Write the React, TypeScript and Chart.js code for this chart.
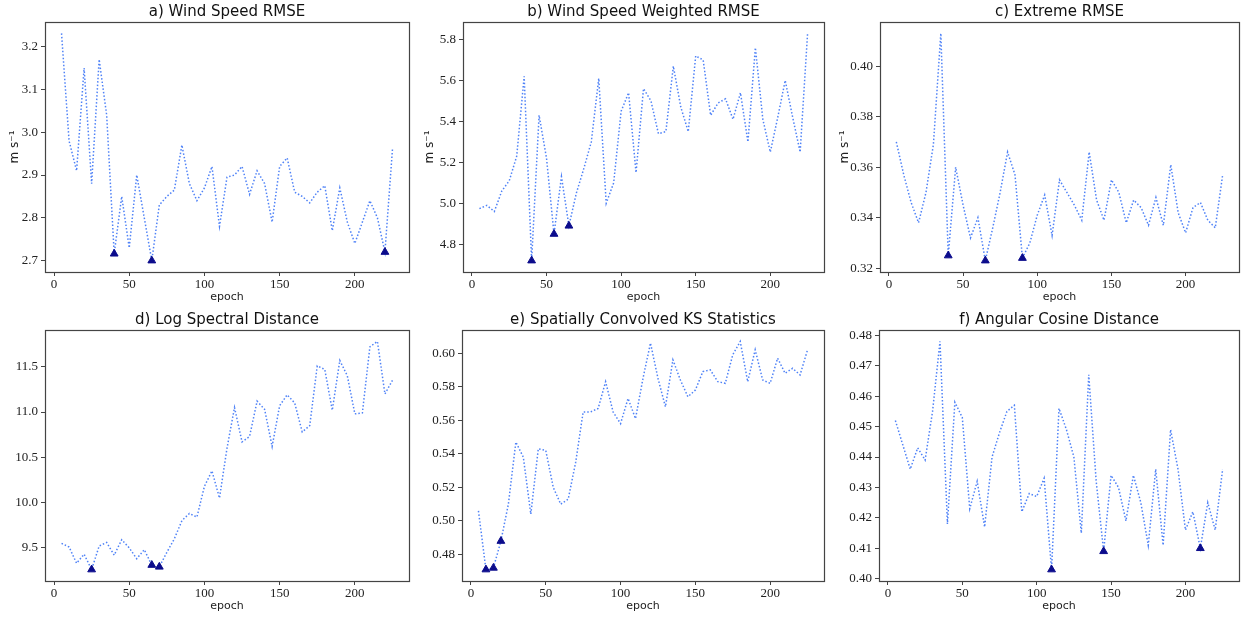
import React, { useEffect, useRef } from "react";
import { Chart, registerables } from "chart.js";

Chart.register(...registerables);

const epochs = [5,10,15,20,25,30,35,40,45,50,55,60,65,70,75,80,85,90,95,100,105,110,115,120,125,130,135,140,145,150,155,160,165,170,175,180,185,190,195,200,205,210,215,220,225];

const windRmse = [3.231,2.98,2.91,3.15,2.88,3.17,3.04,2.716,2.85,2.73,2.90,2.80,2.70,2.83,2.85,2.865,2.97,2.88,2.84,2.87,2.92,2.78,2.895,2.90,2.92,2.855,2.91,2.88,2.79,2.92,2.94,2.86,2.85,2.835,2.86,2.875,2.77,2.87,2.79,2.74,2.79,2.84,2.80,2.72,2.96];
const windRmseBest = [40, 65, 220];

const windWeighted = [4.974,4.99,4.96,5.06,5.11,5.23,5.62,4.72,5.43,5.22,4.85,5.13,4.89,5.05,5.17,5.30,5.61,5.00,5.10,5.45,5.54,5.15,5.56,5.50,5.34,5.35,5.67,5.47,5.35,5.72,5.70,5.43,5.49,5.51,5.41,5.54,5.30,5.76,5.41,5.25,5.42,5.60,5.42,5.25,5.83];
const windWeightedBest = [40, 55, 65];

const extremeRmse = [0.370,0.357,0.346,0.338,0.350,0.369,0.413,0.325,0.360,0.345,0.332,0.340,0.323,0.336,0.350,0.366,0.357,0.324,0.330,0.341,0.349,0.333,0.355,0.350,0.345,0.339,0.366,0.347,0.339,0.355,0.350,0.338,0.347,0.344,0.337,0.348,0.337,0.361,0.342,0.334,0.344,0.346,0.339,0.336,0.357];
const extremeRmseBest = [40, 65, 90];

const logSpectral = [9.55,9.51,9.33,9.43,9.26,9.52,9.56,9.42,9.59,9.50,9.38,9.48,9.31,9.29,9.45,9.60,9.80,9.88,9.84,10.18,10.35,10.05,10.60,11.05,10.67,10.73,11.12,11.03,10.62,11.07,11.19,11.10,10.78,10.85,11.51,11.47,11.02,11.57,11.40,10.98,10.99,11.72,11.78,11.20,11.35];
const logSpectralBest = [25, 65, 70];

const ksStats = [0.506,0.471,0.472,0.488,0.510,0.547,0.538,0.504,0.543,0.542,0.520,0.510,0.513,0.535,0.565,0.565,0.567,0.583,0.565,0.558,0.573,0.561,0.585,0.606,0.585,0.568,0.596,0.584,0.574,0.578,0.589,0.590,0.583,0.582,0.599,0.607,0.583,0.602,0.584,0.582,0.597,0.588,0.591,0.587,0.602];
const ksStatsBest = [10, 15, 20];

const cosineDist = [0.452,0.444,0.436,0.443,0.439,0.455,0.478,0.418,0.458,0.453,0.423,0.432,0.417,0.440,0.448,0.455,0.457,0.422,0.428,0.427,0.433,0.403,0.456,0.449,0.440,0.415,0.467,0.432,0.409,0.434,0.430,0.419,0.434,0.425,0.411,0.436,0.411,0.449,0.436,0.416,0.422,0.410,0.425,0.416,0.436];
const cosineDistBest = [110, 145, 210];

const xTicks = [0, 50, 100, 150, 200];
const ticksA = [2.7, 2.8, 2.9, 3.0, 3.1, 3.2];
const ticksB = [4.8, 5.0, 5.2, 5.4, 5.6, 5.8];
const ticksC = [0.32, 0.34, 0.36, 0.38, 0.40];
const ticksD = [9.5, 10.0, 10.5, 11.0, 11.5];
const ticksE = [0.48, 0.50, 0.52, 0.54, 0.56, 0.58, 0.60];
const ticksF = [0.40, 0.41, 0.42, 0.43, 0.44, 0.45, 0.46, 0.47, 0.48];

type Panel = {
  title: string;
  values: number[];
  best: number[];
  yTicks: number[];
  decimals: number;
  yLabel: string;
  left: number;
  top: number;
  width: number;
  height: number;
  axisW: number;
  padRight: number;
};

const panels: Panel[] = [
  { title: "a) Wind Speed RMSE", values: windRmse, best: windRmseBest, yTicks: ticksA, decimals: 1, yLabel: "m s\u207B\u00B9", left: 0, top: 0, width: 415, height: 308, axisW: 45, padRight: 6 },
  { title: "b) Wind Speed Weighted RMSE", values: windWeighted, best: windWeightedBest, yTicks: ticksB, decimals: 1, yLabel: "m s\u207B\u00B9", left: 415, top: 0, width: 415, height: 308, axisW: 48, padRight: 6 },
  { title: "c) Extreme RMSE", values: extremeRmse, best: extremeRmseBest, yTicks: ticksC, decimals: 2, yLabel: "m s\u207B\u00B9", left: 830, top: 0, width: 420, height: 308, axisW: 50, padRight: 11 },
  { title: "d) Log Spectral Distance", values: logSpectral, best: logSpectralBest, yTicks: ticksD, decimals: 1, yLabel: "", left: 0, top: 308, width: 415, height: 309, axisW: 45, padRight: 6 },
  { title: "e) Spatially Convolved KS Statistics", values: ksStats, best: ksStatsBest, yTicks: ticksE, decimals: 2, yLabel: "", left: 415, top: 308, width: 415, height: 309, axisW: 47, padRight: 6 },
  { title: "f) Angular Cosine Distance", values: cosineDist, best: cosineDistBest, yTicks: ticksF, decimals: 2, yLabel: "", left: 830, top: 308, width: 420, height: 309, axisW: 49, padRight: 11 },
];

const frameColor = "#444444";
const lineColor = "#4f82f7";
const markerColor = "#0c0c8c";
const serif = "'Liberation Serif', 'DejaVu Serif', serif";
const sans = "'DejaVu Sans', 'Noto Sans', sans-serif";

const framePlugin = {
  id: "frame",
  afterDraw(chart: any) {
    const { ctx, chartArea } = chart;
    ctx.save();
    ctx.strokeStyle = frameColor;
    ctx.lineWidth = 1.2;
    ctx.strokeRect(
      Math.round(chartArea.left) + 0.5,
      Math.round(chartArea.top) + 0.5,
      Math.round(chartArea.right - chartArea.left),
      Math.round(chartArea.bottom - chartArea.top)
    );
    ctx.restore();
  },
};

function PanelChart({ p }: { p: Panel }) {
  const ref = useRef<HTMLCanvasElement | null>(null);
  useEffect(() => {
    if (!ref.current) return;
    const xMinD = Math.min(...epochs);
    const xMaxD = Math.max(...epochs);
    const xm = (xMaxD - xMinD) * 0.05;
    const yMinD = Math.min(...p.values);
    const yMaxD = Math.max(...p.values);
    const ym = (yMaxD - yMinD) * 0.05;
    const lineData = epochs.map((e, i) => ({ x: e, y: p.values[i] }));
    const bestData = p.best.map((e) => ({ x: e, y: p.values[epochs.indexOf(e)] }));
    const chart = new Chart(ref.current, {
      type: "line",
      data: {
        datasets: [
          {
            data: bestData,
            showLine: false,
            pointStyle: "triangle",
            pointRadius: 4.5,
            pointBackgroundColor: markerColor,
            pointBorderColor: markerColor,
            borderColor: markerColor,
            backgroundColor: markerColor,
          } as any,
          {
            data: lineData,
            borderColor: lineColor,
            borderWidth: 1.5,
            borderDash: [1.5, 2],
            borderCapStyle: "butt",
            pointRadius: 0,
            fill: false,
            tension: 0,
          },
        ],
      },
      options: {
        animation: false,
        responsive: false,
        maintainAspectRatio: false,
        events: [],
        layout: { padding: { left: 0, right: p.padRight, top: 0, bottom: 0 } },
        plugins: {
          legend: { display: false },
          tooltip: { enabled: false },
          title: {
            display: true,
            fullSize: false,
            text: p.title,
            color: "#111",
            font: { family: sans, size: 15, weight: "normal", lineHeight: 1.2 },
            padding: { top: 3, bottom: 1 },
          },
        },
        scales: {
          x: {
            type: "linear",
            min: xMinD - xm,
            max: xMaxD + xm,
            afterBuildTicks: (s: any) => {
              s.ticks = xTicks.map((v) => ({ value: v }));
            },
            afterFit: (s: any) => {
              s.height = 36;
            },
            grid: { display: true, drawOnChartArea: false, drawTicks: true, tickLength: 4, color: frameColor },
            border: { display: false },
            ticks: {
              padding: 1,
              color: "#222",
              font: { family: serif, size: 13 },
              maxRotation: 0,
              callback: (v: any) => String(v),
            },
            title: {
              display: true,
              text: "epoch",
              color: "#222",
              font: { family: sans, size: 11, lineHeight: 1.2 },
              padding: { top: 4, bottom: 4 },
            },
          },
          y: {
            type: "linear",
            min: yMinD - ym,
            max: yMaxD + ym,
            afterBuildTicks: (s: any) => {
              s.ticks = p.yTicks.map((v) => ({ value: v }));
            },
            afterFit: (s: any) => {
              s.width = p.axisW;
            },
            grid: { display: true, drawOnChartArea: false, drawTicks: true, tickLength: 4, color: frameColor },
            border: { display: false },
            ticks: {
              padding: 3,
              color: "#222",
              font: { family: serif, size: 13 },
              callback: (v: any) => Number(v).toFixed(p.decimals),
            },
            title: {
              display: p.yLabel !== "",
              text: p.yLabel,
              color: "#222",
              font: { family: sans, size: 12, lineHeight: 1.2 },
              padding: { top: 8, bottom: 8 },
            },
          },
        },
      } as any,
      plugins: [framePlugin],
    });
    return () => chart.destroy();
  }, [p]);
  return (
    <div style={{ position: "absolute", left: p.left, top: p.top, width: p.width, height: p.height }}>
      <canvas ref={ref} width={p.width} height={p.height} style={{ width: p.width, height: p.height, display: "block" }} />
    </div>
  );
}

export default function App() {
  return (
    <div style={{ position: "fixed", left: 0, top: 0, width: 1250, height: 617, background: "#fff", overflow: "hidden" }}>
      {panels.map((p) => (
        <PanelChart key={p.title} p={p} />
      ))}
    </div>
  );
}
